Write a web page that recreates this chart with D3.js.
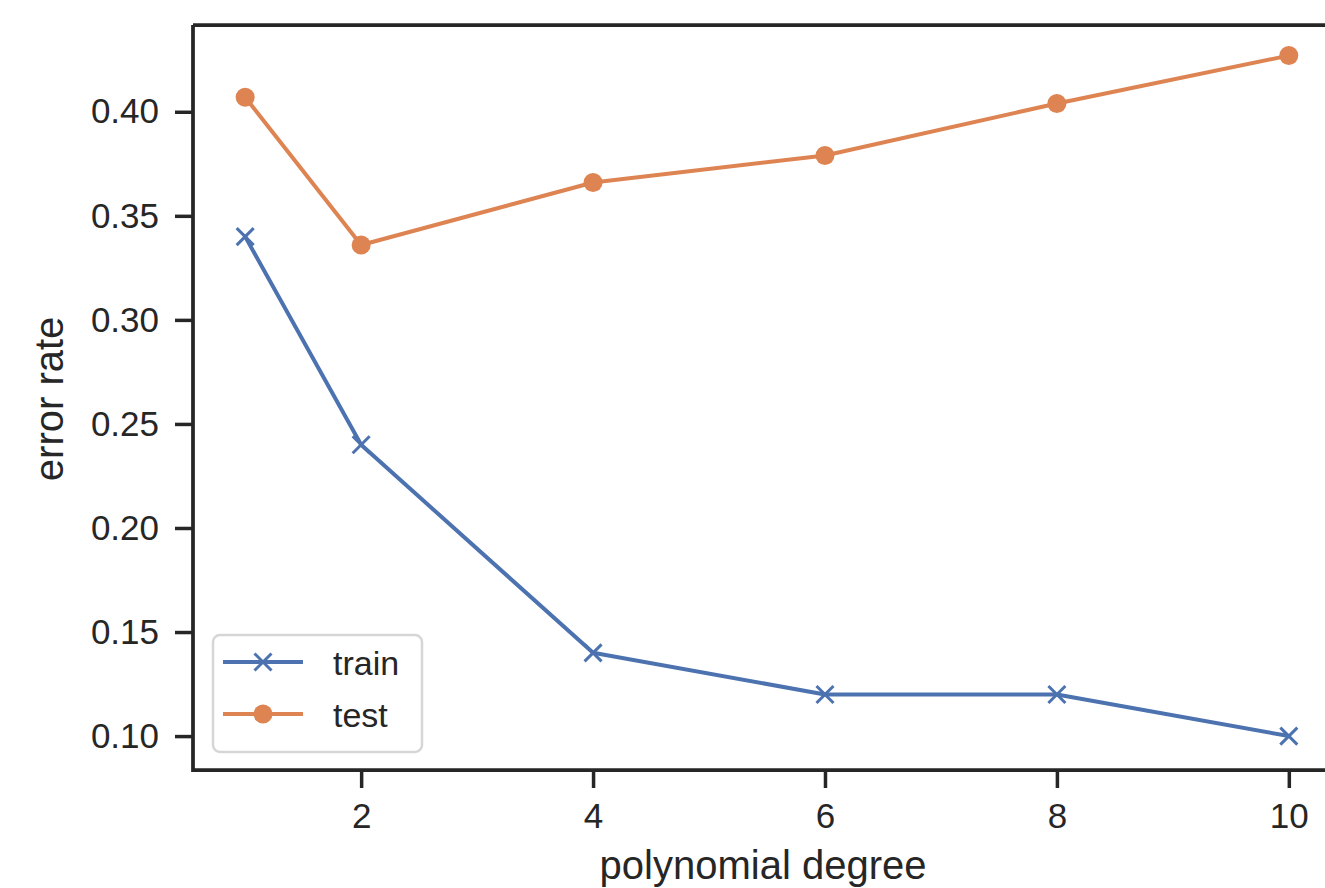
<!DOCTYPE html>
<html>
<head>
<meta charset="utf-8">
<script src="https://cdn.jsdelivr.net/npm/d3@7"></script>
<style>
  html, body { margin: 0; padding: 0; background: #fff; }
  svg { display: block; }
  text { font-family: "Liberation Sans", Arial, sans-serif; fill: #262626; }
</style>
</head>
<body>
<svg id="chart" width="1325" height="888"></svg>
<script>
// Error rate by polynomial degree
const degrees = [1, 2, 4, 6, 8, 10];
const trainError = [0.34, 0.24, 0.14, 0.12, 0.12, 0.10];
const testError = [0.407, 0.336, 0.366, 0.379, 0.404, 0.427];
const xTicks = [2, 4, 6, 8, 10];
const yTicks = [0.10, 0.15, 0.20, 0.25, 0.30, 0.35, 0.40];
const seriesNames = ["train", "test"];
const seriesColors = ["#4C72B0", "#DD8452"];
const xLimits = [0.55, 10.45];
const yLimits = [0.0837, 0.4417];

const svg = d3.select("#chart");
const plot = { left: 193, right: 1341, top: 25, bottom: 770 };
const ink = "#262626";

const x = d3.scaleLinear().domain(xLimits).range([plot.left, plot.right]);
const y = d3.scaleLinear().domain(yLimits).range([plot.bottom, plot.top]);

// axes with outward ticks
const xAxis = svg.append("g")
  .attr("transform", `translate(0,${plot.bottom})`)
  .call(d3.axisBottom(x).tickValues(xTicks).tickFormat(d3.format("d")).tickSize(18).tickPadding(15));
const yAxis = svg.append("g")
  .attr("transform", `translate(${plot.left},0)`)
  .call(d3.axisLeft(y).tickValues(yTicks).tickFormat(d3.format(".2f")).tickSize(18).tickPadding(16));

[xAxis, yAxis].forEach(g => {
  g.select(".domain").remove();
  g.selectAll(".tick line").attr("stroke", ink).attr("stroke-width", 3.5);
  g.selectAll(".tick text").style("font-family", '"Liberation Sans", Arial, sans-serif')
    .style("font-size", "35px").attr("fill", ink);
});

// spines: left, bottom, top (right edge falls outside the canvas)
const spine = svg.append("g").attr("stroke", ink).attr("stroke-width", 3.75).attr("fill", "none");
spine.append("path").attr("d", `M${plot.left},${plot.top}V${plot.bottom}H${plot.right}`);
spine.append("path").attr("d", `M${plot.left},${plot.top}H${plot.right}`);
spine.append("path").attr("d", `M${plot.right},${plot.top}V${plot.bottom}`);

// axis titles
svg.append("text")
  .attr("x", (x(1) + x(10)) / 2 - 4).attr("y", 879)
  .attr("text-anchor", "middle").style("font-size", "40px")
  .text("polynomial degree");
svg.append("text")
  .attr("transform", `translate(63,${(y(0.10) + y(0.40)) / 2 - 25}) rotate(-90)`)
  .attr("text-anchor", "middle").style("font-size", "40px")
  .text("error rate");

const line = d3.line().x(d => x(d[0])).y(d => y(d[1]));
const trainPts = degrees.map((d, i) => [d, trainError[i]]);
const testPts = degrees.map((d, i) => [d, testError[i]]);

function xMarker(g, cx, cy, color) {
  const r = 8.5;
  g.append("path")
    .attr("d", `M${cx - r},${cy - r}L${cx + r},${cy + r}M${cx - r},${cy + r}L${cx + r},${cy - r}`)
    .attr("stroke", color).attr("stroke-width", 3).attr("fill", "none");
}

// train series
svg.append("path").datum(trainPts).attr("d", line)
  .attr("fill", "none").attr("stroke", seriesColors[0]).attr("stroke-width", 4)
  .attr("stroke-linejoin", "round").attr("stroke-linecap", "round");
const trainMarks = svg.append("g");
trainPts.forEach(p => xMarker(trainMarks, x(p[0]), y(p[1]), seriesColors[0]));

// test series
svg.append("path").datum(testPts).attr("d", line)
  .attr("fill", "none").attr("stroke", seriesColors[1]).attr("stroke-width", 4)
  .attr("stroke-linejoin", "round").attr("stroke-linecap", "round");
svg.append("g").selectAll("circle").data(testPts).join("circle")
  .attr("cx", d => x(d[0])).attr("cy", d => y(d[1])).attr("r", 9.5)
  .attr("fill", seriesColors[1]);

// legend
const legend = svg.append("g").attr("transform", "translate(213,635)");
legend.append("rect").attr("width", 209).attr("height", 117).attr("rx", 7)
  .attr("fill", "#fff").attr("fill-opacity", 0.8).attr("stroke", "#d6d6d6").attr("stroke-width", 2.5);
seriesNames.forEach((name, i) => {
  const row = legend.append("g").attr("transform", `translate(0,${27 + i * 52})`);
  row.append("line").attr("x1", 10).attr("x2", 90)
    .attr("stroke", seriesColors[i]).attr("stroke-width", 4);
  if (i === 0) xMarker(row, 50, 0, seriesColors[i]);
  else row.append("circle").attr("cx", 50).attr("cy", 0).attr("r", 9.5).attr("fill", seriesColors[i]);
  row.append("text").attr("x", 120).attr("y", 13).style("font-size", "34px").text(name);
});
</script>
</body>
</html>
